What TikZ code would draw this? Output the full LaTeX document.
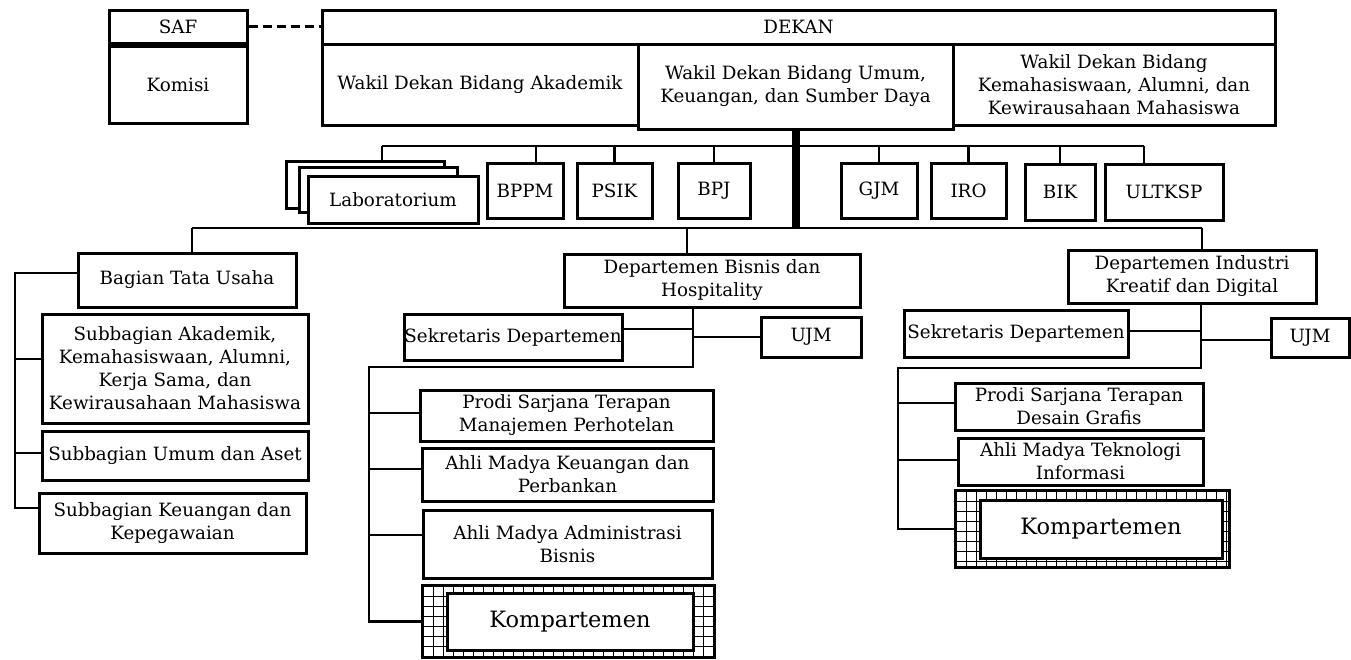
\documentclass[tikz,border=0pt]{standalone}
\usepackage{fontspec}
\setmainfont{DejaVu Serif}
\newcommand\kgrid[1]{%
  \begin{scope}
    \clip (#1.north west) rectangle (#1.south east);
    \foreach \i in {0,...,30} {\draw[gl] ([xshift=\i*10pt+3pt]#1.north west) -- ([xshift=\i*10pt+3pt]#1.south west);}
    \foreach \j in {0,...,8} {\draw[gl] ([yshift=-\j*10pt-3pt]#1.north west) -- ([yshift=-\j*10pt-3pt]#1.north east);}
  \end{scope}
  \draw[line width=1.4pt] ([shift={(3,3)}]#1.north west) rectangle ([shift={(-3,-3)}]#1.south east);}
\begin{document}
\begin{tikzpicture}[x=1pt,y=-1pt,
  box/.style={draw, line width=3pt, fill=white, align=center, inner sep=0pt, font=\fontsize{18.3}{23}\selectfont},
  conn/.style={line width=2.6pt},
  gl/.style={line width=1.5pt},
  kframe/.style={draw, line width=2.6pt, inner sep=0pt},
  kbox/.style={box, font=\fontsize{22.5}{26}\selectfont}]
\useasboundingbox (0,0) rectangle (1351,659);

% top
\node[box, minimum width=138pt, minimum height=33pt] (saf) at (178,26.5) {SAF};
\node[box, minimum width=138pt, minimum height=77pt] (komisi) at (178,84.5) {Komisi};
\node[box, minimum width=953pt, minimum height=34pt] (dekan) at (798.5,27) {DEKAN};
\node[box, minimum width=316pt, minimum height=81pt] (wda) at (480,84.5) {Wakil Dekan Bidang Akademik};
\node[box, minimum width=322pt, minimum height=81pt] (wdk) at (1114,84.5) {Wakil Dekan Bidang\\Kemahasiswaan, Alumni, dan\\Kewirausahaan Mahasiswa};
\node[box, minimum width=315pt, minimum height=85pt] (wdu) at (795.5,86.5) {Wakil Dekan Bidang Umum,\\Keuangan, dan Sumber Daya};
\draw[conn, dash pattern=on 9pt off 5pt] (saf.east) -- (saf.east -| dekan.west);

% upper units
\coordinate (ub1) at (382,146);
\coordinate (ub2) at (1144,146);
\coordinate (lb1) at (192,228);
\coordinate (lb2) at (1202,228);
\coordinate (lbm) at (687,228);
\draw[line width=8pt] (wdu.south) -- (wdu.south |- lb1);
\draw[conn] (ub1) -- (ub2);
\draw[conn] (lb1) -- (lb2);

\node[box, minimum width=158pt, minimum height=47pt] (labA) at (365,184.5) {};
\node[box, minimum width=158pt, minimum height=45pt] (labB) at (378,189.5) {};
\node[box, minimum width=170pt, minimum height=47pt] (lab) at (393,199.5) {Laboratorium};
\draw[conn] (ub1) -- (ub1 |- labA.north);

\node[box, minimum width=76pt, minimum height=55pt] (bppm) at (525,190.5) {BPPM};
\node[box, minimum width=75pt, minimum height=55pt] (psik) at (614.5,190.5) {PSIK};
\node[box, minimum width=72pt, minimum height=55pt] (bpj) at (714,190.5) {BPJ};
\node[box, minimum width=76pt, minimum height=55pt] (gjm) at (879,190.5) {GJM};
\node[box, minimum width=75pt, minimum height=55pt] (iro) at (968.5,190.5) {IRO};
\node[box, minimum width=70pt, minimum height=56pt] (bik) at (1060,192) {BIK};
\node[box, minimum width=118pt, minimum height=56pt] (ultksp) at (1164,192) {ULTKSP};
\draw[conn] ([xshift=11pt]bppm.north) -- ([xshift=11pt]bppm.north |- ub1);
\draw[conn] (psik.north) -- (psik.north |- ub1);
\draw[conn] (bpj.north) -- (bpj.north |- ub1);
\draw[conn] (gjm.north) -- (gjm.north |- ub1);
\draw[conn] (iro.north) -- (iro.north |- ub1);
\draw[conn] (bik.north) -- (bik.north |- ub1);
\draw[conn] ([xshift=-20pt]ultksp.north) -- (ub2);

% left column
\node[box, minimum width=218pt, minimum height=54pt] (btu) at (187,280) {Bagian Tata Usaha};
\node[box, minimum width=266pt, minimum height=109pt] (sa) at (175,368.5) {Subbagian Akademik,\\Kemahasiswaan, Alumni,\\Kerja Sama, dan\\Kewirausahaan Mahasiswa};
\node[box, minimum width=266pt, minimum height=49pt] (su) at (175,455.5) {Subbagian Umum dan Aset};
\node[box, minimum width=267pt, minimum height=60pt] (sk) at (172.5,523) {Subbagian Keuangan dan\\Kepegawaian};
\coordinate (lv1) at (15,273);
\coordinate (lv2) at (15,508);
\draw[conn] (lb1) -- (lb1 |- btu.north);
\draw[conn] (btu.west |- lv1) -- (lv1) -- (lv2) -- (lv2 -| sk.west);
\draw[conn] (lv1 |- 0,359) -- (sa.west |- 0,359);
\draw[conn] (lv1 |- 0,453) -- (su.west |- 0,453);

% middle department
\node[box, minimum width=296pt, minimum height=53pt] (db) at (712,280.5) {Departemen Bisnis dan\\Hospitality};
\node[box, minimum width=218pt, minimum height=46pt] (sek1) at (513,337) {Sekretaris Departemen};
\node[box, minimum width=100pt, minimum height=40pt] (ujm1) at (811,337) {UJM};
\node[box, minimum width=293pt, minimum height=51pt] (p1) at (566.5,415.5) {Prodi Sarjana Terapan\\Manajemen Perhotelan};
\node[box, minimum width=291pt, minimum height=53pt] (p2) at (567.5,474.5) {Ahli Madya Keuangan dan\\Perbankan};
\node[box, minimum width=289pt, minimum height=68pt] (p3) at (567.5,544) {Ahli Madya Administrasi\\Bisnis};
\node[kframe, minimum width=293pt, minimum height=73pt] (k1o) at (568.5,621.5) {};
\kgrid{k1o}
\node[kbox, minimum width=246pt, minimum height=57pt] (k1) at (570,621.5) {Kompartemen};
\coordinate (mv) at (693,367);
\coordinate (ml) at (369,367);
\draw[conn] (lbm) -- (lbm |- db.north);
\draw[conn] (db.south -| mv) -- (mv) -- (ml) -- (ml |- k1o.west) -- (k1o.west);
\draw[conn] (sek1.east |- 0,329) -- (mv |- 0,329);
\draw[conn] (mv |- ujm1.west) -- (ujm1.west);
\draw[conn] (ml |- 0,413) -- (p1.west |- 0,413);
\draw[conn] (ml |- 0,469) -- (p2.west |- 0,469);
\draw[conn] (ml |- 0,535) -- (p3.west |- 0,535);

% right department
\node[box, minimum width=248pt, minimum height=53pt] (di) at (1192,276.5) {Departemen Industri\\Kreatif dan Digital};
\node[box, minimum width=224pt, minimum height=47pt] (sek2) at (1016,333.5) {Sekretaris Departemen};
\node[box, minimum width=78pt, minimum height=39pt] (ujm2) at (1310,337.5) {UJM};
\node[box, minimum width=248pt, minimum height=47pt] (p4) at (1079,406.5) {Prodi Sarjana Terapan\\Desain Grafis};
\node[box, minimum width=245pt, minimum height=47pt] (p5) at (1080.5,461.5) {Ahli Madya Teknologi\\Informasi};
\node[kframe, minimum width=275pt, minimum height=78pt] (k2o) at (1092.5,529) {};
\kgrid{k2o}
\node[kbox, minimum width=242pt, minimum height=58pt] (k2) at (1101,529) {Kompartemen};
\coordinate (rv) at (1201,368);
\coordinate (rl) at (898,368);
\draw[conn] (lb2) -- (lb2 |- di.north);
\draw[conn] (di.south -| rv) -- (rv) -- (rl) -- (rl |- k2o.west) -- (k2o.west);
\draw[conn] (sek2.east |- 0,331) -- (rv |- 0,331);
\draw[conn] (rv |- 0,340) -- (ujm2.west |- 0,340);
\draw[conn] (rl |- 0,403) -- (p4.west |- 0,403);
\draw[conn] (rl |- 0,460) -- (p5.west |- 0,460);
\end{tikzpicture}
\end{document}
